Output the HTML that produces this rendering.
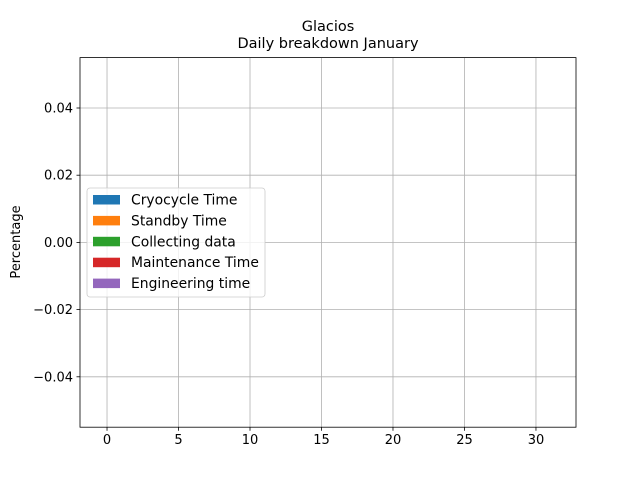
<!DOCTYPE html>
<html>
<head>
<meta charset="utf-8">
<style>
  html,body{margin:0;padding:0;background:#fff;}
  svg{display:block;font-family:"DejaVu Sans","Liberation Sans",sans-serif;}
</style>
</head>
<body>
<svg id="chart" width="640" height="480" viewBox="0 0 640 480">
  <rect x="0" y="0" width="640" height="480" fill="#fff"/>
  <text x="328" y="31" text-anchor="middle" font-size="14.5" fill="#000">Glacios</text>
  <text x="328" y="48" text-anchor="middle" font-size="14.5" fill="#000">Daily breakdown January</text>
  <g id="grid"></g>
  <g id="bars"></g>
  <g id="ticks"></g>
  <rect x="80" y="57.6" width="496" height="369.6" fill="none" stroke="#000" stroke-width="0.8"/>
  <text transform="translate(20,242) rotate(-90)" text-anchor="middle" font-size="13" fill="#000">Percentage</text>
  <g id="legend"></g>
</svg>
<script>
const days = Array.from({length: 31}, (_, i) => i + 1);
const seriesNames = ["Cryocycle Time","Standby Time","Collecting data","Maintenance Time","Engineering time"];
const seriesColors = ["#1f77b4","#ff7f0e","#2ca02c","#d62728","#9467bd"];
const cryocycle = new Array(31).fill(0);
const standby = new Array(31).fill(0);
const collecting = new Array(31).fill(0);
const maintenance = new Array(31).fill(0);
const engineering = new Array(31).fill(0);
const xTicks = [0,5,10,15,20,25,30];
const yTicks = [-0.04,-0.02,0,0.02,0.04];
const yTickLabels = ["\u22120.04","\u22120.02","0.00","0.02","0.04"];

const NS = "http://www.w3.org/2000/svg";
const L = 80, R = 576, T = 57.6, B = 427.2;
const xMin = -1.89, xMax = 32.8, yMin = -0.055, yMax = 0.055;
const xs = v => L + (v - xMin) / (xMax - xMin) * (R - L);
const ys = v => B - (v - yMin) / (yMax - yMin) * (B - T);
function mk(tag, attrs, parent){
  const e = document.createElementNS(NS, tag);
  for (const k in attrs) e.setAttribute(k, attrs[k]);
  parent.appendChild(e);
  return e;
}
const grid = document.getElementById("grid");
const ticks = document.getElementById("ticks");
xTicks.forEach(t => {
  const x = xs(t);
  const g = mk("line", {x1:x, x2:x, y1:T, y2:B, stroke:"#b0b0b0", "stroke-width":0.8}, grid);
  
  
  const tk = mk("line", {x1:x, x2:x, y1:B, y2:B+3.5, stroke:"#000", "stroke-width":0.8}, ticks);
  
  
  const lb = mk("text", {x:x, y:B+17, "text-anchor":"middle", "font-size":13}, ticks);
  lb.textContent = t;
  
  
});
yTicks.forEach((t, i) => {
  const y = ys(t);
  const g = mk("line", {x1:L, x2:R, y1:y, y2:y, stroke:"#b0b0b0", "stroke-width":0.8}, grid);
  
  
  const tk = mk("line", {x1:L-3.5, x2:L, y1:y, y2:y, stroke:"#000", "stroke-width":0.8}, ticks);
  
  
  const lb = mk("text", {x:L-7, y:y+4.5, "text-anchor":"end", "font-size":13}, ticks);
  lb.textContent = yTickLabels[i];
  
  
});
const bars = document.getElementById("bars");
const allSeries = [cryocycle, standby, collecting, maintenance, engineering];
const bottoms = new Array(days.length).fill(0);
allSeries.forEach((vals, si) => {
  days.forEach((d, i) => {
    const y0 = ys(bottoms[i]), y1 = ys(bottoms[i] + vals[i]);
    const r = mk("rect", {x:xs(d-0.4), width:xs(d+0.4)-xs(d-0.4), y:Math.min(y0,y1), height:Math.abs(y0-y1), fill:seriesColors[si]}, bars);
    
    
    bottoms[i] += vals[i];
  });
});
const legend = document.getElementById("legend");
const box = mk("rect", {x:87, y:188, width:178, height:109, rx:3, fill:"#fff", "fill-opacity":0.8, stroke:"#ccc", "stroke-width":0.8}, legend);


seriesNames.forEach((n, i) => {
  const y = 200 + i * 20.9;
  const p = mk("rect", {x:93, y:y-5, width:27, height:9.5, fill:seriesColors[i]}, legend);
  
  
  const t = mk("text", {x:131, y:y+4.5, "font-size":13.9}, legend);
  t.textContent = n;
  
  
});
</script>
</body>
</html>
